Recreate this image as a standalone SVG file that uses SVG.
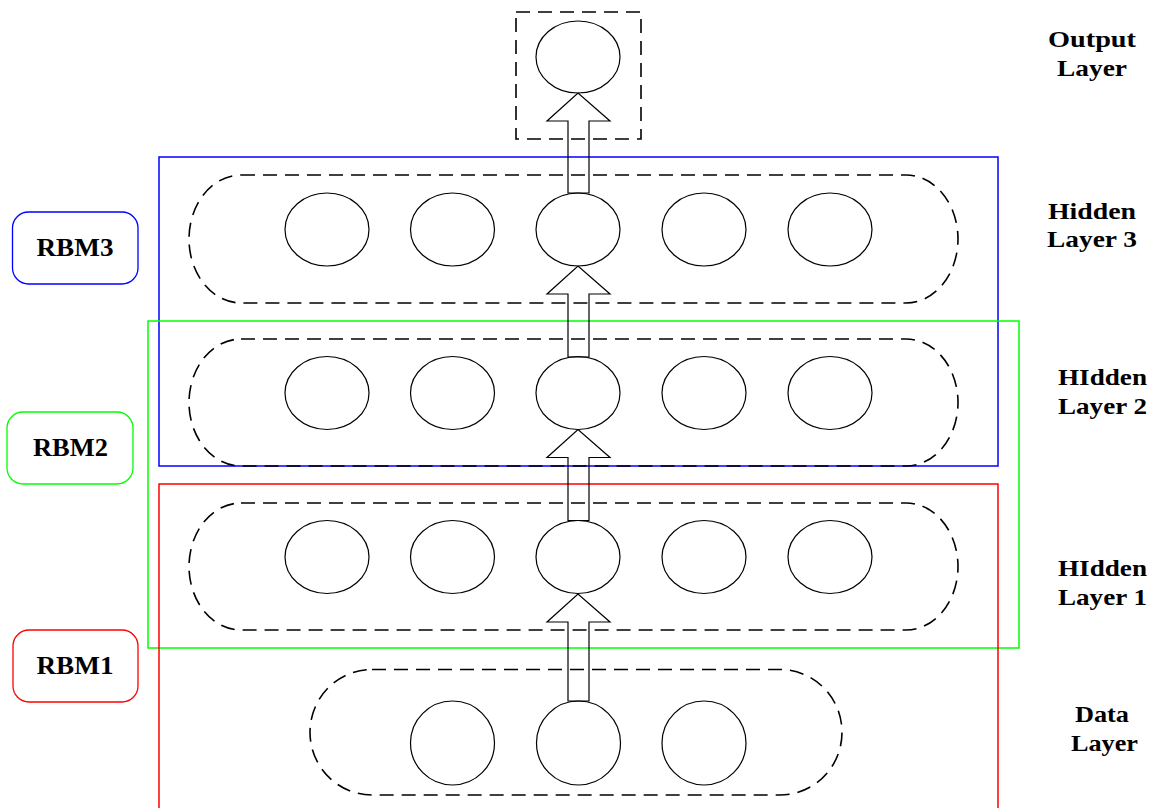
<svg xmlns="http://www.w3.org/2000/svg" width="1158" height="808" viewBox="0 0 1158 808">
  <style>
    .unit { fill: #ffffff; stroke: #000000; stroke-width: 1.2; }
    .layer { fill: none; stroke: #000000; stroke-width: 1.6; stroke-dasharray: 14 8; }
    .arrow { fill: none; stroke: #000000; stroke-width: 1.2; }
    .lbl { font-family: "Liberation Serif", "Times New Roman", serif; font-weight: bold; fill: #000000; }
    .side { font-size: 24px; text-anchor: middle; }
    .rbm { font-size: 26px; text-anchor: middle; }
  </style>
  <rect width="1158" height="808" fill="#ffffff"/>

  <!-- RBM groupings -->
  <g id="rbm-frames" fill="none" stroke-width="1.5">
    <rect x="159" y="157" width="839" height="309" stroke="#0000ff"/>
    <rect x="148" y="321" width="871" height="327" stroke="#00ff00"/>
    <path d="M159 812 V484 H998 V812" stroke="#ff0000"/>
  </g>

  <!-- output layer -->
  <g id="output-layer">
    <rect x="516" y="12" width="125" height="127" class="layer" stroke-dasharray="12 7"/>
    <ellipse cx="578" cy="57" rx="42" ry="36" class="unit"/>
  </g>

  <!-- hidden layer 3 -->
  <g id="hidden-layer-3">
    <rect x="189" y="175" width="769" height="128" rx="52" ry="64" class="layer"/>
    <ellipse cx="327" cy="229.5" rx="42" ry="36.5" class="unit"/>
    <ellipse cx="452.5" cy="229.5" rx="42" ry="36.5" class="unit"/>
    <ellipse cx="578" cy="229.5" rx="42" ry="36.5" class="unit"/>
    <ellipse cx="704" cy="229.5" rx="42" ry="36.5" class="unit"/>
    <ellipse cx="830" cy="229.5" rx="42" ry="36.5" class="unit"/>
  </g>

  <!-- hidden layer 2 -->
  <g id="hidden-layer-2">
    <rect x="189" y="339" width="769" height="127" rx="52" ry="63.5" class="layer"/>
    <ellipse cx="327" cy="393" rx="42" ry="36.5" class="unit"/>
    <ellipse cx="452.5" cy="393" rx="42" ry="36.5" class="unit"/>
    <ellipse cx="578" cy="393" rx="42" ry="36.5" class="unit"/>
    <ellipse cx="704" cy="393" rx="42" ry="36.5" class="unit"/>
    <ellipse cx="830" cy="393" rx="42" ry="36.5" class="unit"/>
  </g>

  <!-- hidden layer 1 -->
  <g id="hidden-layer-1">
    <rect x="189" y="503" width="769" height="127" rx="52" ry="63.5" class="layer"/>
    <ellipse cx="327" cy="557" rx="42" ry="36.5" class="unit"/>
    <ellipse cx="452.5" cy="557" rx="42" ry="36.5" class="unit"/>
    <ellipse cx="578" cy="557" rx="42" ry="36.5" class="unit"/>
    <ellipse cx="704" cy="557" rx="42" ry="36.5" class="unit"/>
    <ellipse cx="830" cy="557" rx="42" ry="36.5" class="unit"/>
  </g>

  <!-- data layer -->
  <g id="data-layer">
    <rect x="310" y="669.5" width="532" height="125.5" rx="62" ry="62.7" class="layer"/>
    <ellipse cx="452.5" cy="743" rx="42" ry="42" class="unit"/>
    <ellipse cx="578.5" cy="743" rx="42" ry="42" class="unit"/>
    <ellipse cx="704" cy="743" rx="42" ry="42" class="unit"/>
  </g>

  <!-- block arrows between layers -->
  <g id="connectors">
    <polygon class="arrow" points="568,193 568,121 547,121 578,93 610,121 589,121 589,193"/>
    <polygon class="arrow" points="568,357 568,294 547,294 578,266 610,294 589,294 589,357"/>
    <polygon class="arrow" points="568,520.5 568,457.5 547,457.5 578,429.5 610,457.5 589,457.5 589,520.5"/>
    <polygon class="arrow" points="568,701 568,622 547,622 578,594 610,622 589,622 589,701"/>
  </g>

  <!-- RBM tags -->
  <g id="rbm3-tag">
    <rect x="12.5" y="212" width="125.5" height="72" rx="16" ry="16" fill="#ffffff" stroke="#0000ff" stroke-width="1.3"/>
    <text x="75" y="256" class="lbl rbm" textLength="77" lengthAdjust="spacingAndGlyphs">RBM3</text>
  </g>
  <g id="rbm2-tag">
    <rect x="7" y="412" width="126" height="72" rx="16" ry="16" fill="#ffffff" stroke="#00ff00" stroke-width="1.3"/>
    <text x="70.5" y="456" class="lbl rbm" textLength="75" lengthAdjust="spacingAndGlyphs">RBM2</text>
  </g>
  <g id="rbm1-tag">
    <rect x="13" y="630" width="125" height="72" rx="16" ry="16" fill="#ffffff" stroke="#ff0000" stroke-width="1.3"/>
    <text x="75" y="674" class="lbl rbm" textLength="77" lengthAdjust="spacingAndGlyphs">RBM1</text>
  </g>

  <!-- layer names -->
  <g id="layer-names" class="lbl side">
    <text x="1092" y="47" textLength="88" lengthAdjust="spacingAndGlyphs">Output</text>
    <text x="1092" y="76" textLength="70" lengthAdjust="spacingAndGlyphs">Layer</text>
    <text x="1092" y="219" textLength="88" lengthAdjust="spacingAndGlyphs">Hidden</text>
    <text x="1092" y="247" textLength="90" lengthAdjust="spacingAndGlyphs">Layer 3</text>
    <text x="1102.5" y="385" textLength="89" lengthAdjust="spacingAndGlyphs">HIdden</text>
    <text x="1102.5" y="414" textLength="89" lengthAdjust="spacingAndGlyphs">Layer 2</text>
    <text x="1102.5" y="576" textLength="89" lengthAdjust="spacingAndGlyphs">HIdden</text>
    <text x="1102.5" y="605" textLength="89" lengthAdjust="spacingAndGlyphs">Layer 1</text>
    <text x="1102" y="722" textLength="54" lengthAdjust="spacingAndGlyphs">Data</text>
    <text x="1104.5" y="751" textLength="67" lengthAdjust="spacingAndGlyphs">Layer</text>
  </g>
</svg>
